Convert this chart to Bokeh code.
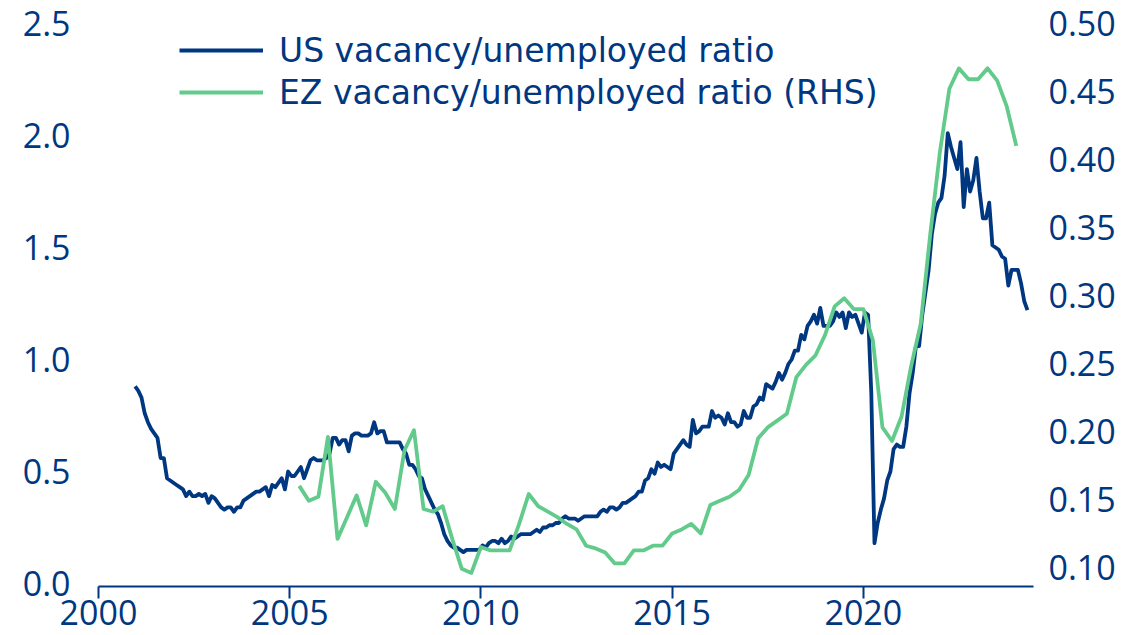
from bokeh.plotting import figure
from bokeh.models import (Range1d, LinearAxis, FixedTicker, PrintfTickFormatter,
                          Legend, LegendItem)
from bokeh.embed import file_html
from bokeh.resources import INLINE

# ---------------- data ----------------
# US vacancy / unemployed ratio, monthly, first month Dec 2000
us_start_year = 2000
us_start_month = 12
us_vu = [
    0.88,
    0.86, 0.83, 0.76, 0.72, 0.69, 0.67, 0.65, 0.56, 0.56, 0.47, 0.46, 0.45,   # 2001
    0.44, 0.43, 0.42, 0.39, 0.41, 0.39, 0.39, 0.40, 0.39, 0.40, 0.36, 0.39,   # 2002
    0.38, 0.36, 0.34, 0.33, 0.34, 0.34, 0.32, 0.34, 0.34, 0.37, 0.38, 0.39,   # 2003
    0.40, 0.41, 0.41, 0.42, 0.43, 0.39, 0.44, 0.43, 0.45, 0.47, 0.42, 0.50,   # 2004
    0.48, 0.48, 0.50, 0.52, 0.47, 0.51, 0.55, 0.56, 0.55, 0.55, 0.55, 0.56,   # 2005
    0.58, 0.65, 0.65, 0.62, 0.64, 0.64, 0.59, 0.66, 0.67, 0.67, 0.66, 0.66,   # 2006
    0.66, 0.67, 0.72, 0.67, 0.68, 0.68, 0.63, 0.63, 0.63, 0.63, 0.63, 0.60,   # 2007
    0.58, 0.53, 0.53, 0.51, 0.48, 0.47, 0.42, 0.39, 0.36, 0.33, 0.31, 0.27,   # 2008
    0.22, 0.19, 0.17, 0.16, 0.16, 0.15, 0.14, 0.15, 0.15, 0.15, 0.15, 0.15,   # 2009
    0.17, 0.16, 0.18, 0.19, 0.19, 0.18, 0.20, 0.18, 0.19, 0.21, 0.20, 0.21,   # 2010
    0.22, 0.22, 0.22, 0.22, 0.23, 0.24, 0.23, 0.25, 0.25, 0.26, 0.26, 0.27,   # 2011
    0.27, 0.29, 0.30, 0.29, 0.29, 0.29, 0.28, 0.29, 0.30, 0.30, 0.30, 0.30,   # 2012
    0.30, 0.32, 0.33, 0.32, 0.34, 0.34, 0.33, 0.34, 0.36, 0.36, 0.37, 0.38,   # 2013
    0.39, 0.41, 0.41, 0.46, 0.47, 0.51, 0.49, 0.54, 0.52, 0.53, 0.52, 0.51,   # 2014
    0.58, 0.60, 0.62, 0.64, 0.62, 0.61, 0.73, 0.67, 0.68, 0.70, 0.70, 0.70,   # 2015
    0.77, 0.74, 0.75, 0.74, 0.71, 0.76, 0.72, 0.72, 0.70, 0.71, 0.77, 0.74,   # 2016
    0.74, 0.79, 0.80, 0.83, 0.82, 0.89, 0.88, 0.87, 0.90, 0.94, 0.91, 0.94,   # 2017
    0.98, 1.00, 1.04, 1.04, 1.11, 1.09, 1.15, 1.17, 1.20, 1.16, 1.23, 1.15,   # 2018
    1.15, 1.15, 1.17, 1.21, 1.19, 1.21, 1.14, 1.21, 1.19, 1.20, 1.16, 1.12,   # 2019
    1.21, 1.20, 0.85, 0.18, 0.27, 0.33, 0.38, 0.46, 0.50, 0.60, 0.62, 0.61,   # 2020
    0.61, 0.70, 0.85, 0.94, 1.06, 1.06, 1.20, 1.30, 1.40, 1.56, 1.65, 1.70,   # 2021
    1.72, 1.82, 2.01, 1.95, 1.90, 1.85, 1.97, 1.68, 1.85, 1.75, 1.80, 1.90,   # 2022
    1.75, 1.63, 1.63, 1.70, 1.51, 1.50, 1.49, 1.46, 1.45, 1.33, 1.40, 1.40,   # 2023
    1.40, 1.34, 1.26, 1.22,                                                   # 2024
]

# Euro-zone vacancy / unemployed ratio (RHS), quarterly, first point 2005 Q2
ez_start_year = 2005
ez_start_quarter = 2
ez_vu = [
    0.160, 0.149, 0.152,                 # 2005
    0.196, 0.121, 0.137, 0.153,          # 2006
    0.131, 0.163, 0.155, 0.143,          # 2007
    0.186, 0.201, 0.143, 0.141,          # 2008
    0.145, 0.121, 0.099, 0.096,          # 2009
    0.115, 0.1125, 0.1125, 0.1125,       # 2010
    0.132, 0.154, 0.145, 0.141,          # 2011
    0.137, 0.132, 0.128, 0.116,          # 2012
    0.114, 0.111, 0.103, 0.103,          # 2013
    0.1125, 0.1125, 0.116, 0.116,        # 2014
    0.125, 0.128, 0.132, 0.125,          # 2015
    0.146, 0.149, 0.152, 0.157,          # 2016
    0.168, 0.195, 0.203, 0.208,          # 2017
    0.213, 0.240, 0.249, 0.256,          # 2018
    0.271, 0.292, 0.298, 0.290,          # 2019
    0.290, 0.267, 0.203, 0.193,          # 2020
    0.211, 0.248, 0.279, 0.345,          # 2021
    0.405, 0.452, 0.467, 0.459,          # 2022
    0.459, 0.467, 0.458, 0.439,          # 2023
    0.410,                               # 2024
]

x_ticks = [2000, 2005, 2010, 2015, 2020]
left_ticks = [0.0, 0.5, 1.0, 1.5, 2.0, 2.5]
right_ticks = [0.10, 0.15, 0.20, 0.25, 0.30, 0.35, 0.40, 0.45, 0.50]

series_labels = ["US vacancy/unemployed ratio", "EZ vacancy/unemployed ratio (RHS)"]

# positions on a decimal-year axis
us_x = [us_start_year + (us_start_month - 1 + i + 0.5) / 12 for i in range(len(us_vu))]
ez_x = [ez_start_year + (ez_start_quarter - 1 + i) / 4 for i in range(len(ez_vu))]

# ---------------- styling ----------------
BLUE = "#003781"
GREEN = "#62CB8B"
FONT = "Open Sans"
LEGEND_FONT = "DejaVu Sans"

p = figure(width=1145, height=635,
           x_range=Range1d(2000, 2024.45),
           y_range=Range1d(-0.0134, 2.5),
           output_backend="svg", toolbar_location=None,
           min_border_left=98, min_border_right=112,
           min_border_top=23, min_border_bottom=49)
p.extra_y_ranges = {"rhs": Range1d(0.086, 0.50)}

p.outline_line_color = None
p.xgrid.grid_line_color = None
p.ygrid.grid_line_color = None
p.background_fill_color = "white"
p.border_fill_color = "white"

r_us = p.line(us_x, us_vu, line_color=BLUE, line_width=3.8, line_join="round")
r_ez = p.line(ez_x, ez_vu, line_color=GREEN, line_width=3.8, line_join="round",
              y_range_name="rhs")

# x axis
xa = p.xaxis[0]
xa.ticker = FixedTicker(ticks=x_ticks)
xa.formatter = PrintfTickFormatter(format="%d")
xa.axis_line_color = BLUE
xa.axis_line_width = 2
xa.major_tick_line_color = BLUE
xa.major_tick_line_width = 2
xa.major_tick_out = 12
xa.major_tick_in = 0
xa.minor_tick_line_color = None
xa.major_label_standoff = 1
xa.major_label_text_font = FONT
xa.major_label_text_font_size = "34px"
xa.major_label_text_color = BLUE

# left axis
ya = p.yaxis[0]
ya.ticker = FixedTicker(ticks=left_ticks)
ya.formatter = PrintfTickFormatter(format="%.1f")

# right axis
yr = LinearAxis(y_range_name="rhs", ticker=FixedTicker(ticks=right_ticks),
                formatter=PrintfTickFormatter(format="%.2f"))
p.add_layout(yr, "right")

for ax, standoff in ((ya, 28), (yr, 15)):
    ax.axis_line_color = None
    ax.major_tick_line_color = None
    ax.minor_tick_line_color = None
    ax.major_tick_out = 0
    ax.major_tick_in = 0
    ax.major_label_standoff = standoff
    ax.major_label_text_font = FONT
    ax.major_label_text_font_size = "34px"
    ax.major_label_text_color = BLUE

legend_style = dict(glyph_width=84, glyph_height=40, label_standoff=16,
                    spacing=0, padding=0, margin=0,
                    border_line_color=None, background_fill_alpha=0,
                    label_text_font=LEGEND_FONT, label_text_font_size="33px",
                    label_text_color=BLUE)
leg_us = Legend(items=[LegendItem(label=series_labels[0], renderers=[r_us])],
                location=(81, 516), **legend_style)
leg_ez = Legend(items=[LegendItem(label=series_labels[1], renderers=[r_ez])],
                location=(81, 474), **legend_style)
p.add_layout(leg_us)
p.add_layout(leg_ez)

open("out.html", "w").write(file_html(p, INLINE))
